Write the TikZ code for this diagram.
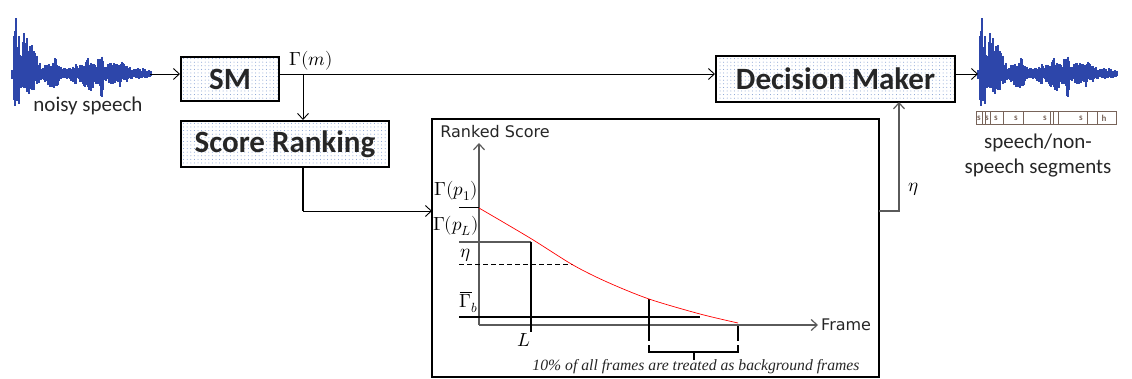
\documentclass[tikz,border=0pt]{standalone}
\usepackage{fontspec}
\usepackage{unicode-math}
\setmainfont{Carlito}
\setmathfont{Latin Modern Math}
\newfontfamily\dejavu{DejaVu Sans}
\newfontfamily\tnr{Liberation Serif}
\usetikzlibrary{arrows.meta,patterns.meta,calc}
\definecolor{wavec}{RGB}{45,70,170}
\definecolor{dotc}{RGB}{120,150,205}
\definecolor{segc}{RGB}{120,100,90}
\definecolor{axisc}{RGB}{90,90,90}

\newcommand\drawwave[1]{%
 \pgfmathsetseed{11}%
 \foreach \xa/\up/\dn in {0/5/5, 2/70/40, 5/42/32, 8/22/16, 11/42/24, 14/40/24, 17/44/26, 20/36/22, 23/22/14, 26/12/10, 29/8/8, 32/10/10, 35/12/12, 38/14/14, 41/18/17, 44/16/15, 47/10/8, 50/6/6, 53/6/6, 56/7/6, 59/8/8, 62/10/10, 65/8/8, 68/10/12, 71/14/14, 74/18/15, 77/16/19, 80/12/17, 83/10/12, 86/17/12, 89/19/28, 92/12/10, 95/10/10, 98/12/10, 101/14/12, 104/10/10, 107/12/14, 110/14/10, 113/10/8, 116/8/6, 119/6/6, 122/7/5, 125/6/5, 128/5/5, 131/6/5, 134/5/4, 137/4/4}{%
   \foreach \k in {0,1,2}{%
     \pgfmathsetmacro\ru{0.45+0.55*rnd}%
     \pgfmathsetmacro\rd{0.45+0.55*rnd}%
     \draw[wavec, line width=1.3pt] (#1+\xa+\k, 74-\up*\ru) -- (#1+\xa+\k, 74+\dn*\rd);
   }}}

\tikzset{
  block/.style={draw, line width=2pt, pattern={Dots[distance=3.6pt,radius=0.5pt]}, pattern color=dotc,
     font=\fontsize{31}{36}\selectfont\bfseries, inner sep=0pt, text=black!85},
  flow/.style={line width=0.9pt, -{Straight Barb[length=6pt,width=11pt]}},
  tip/.style={-{Straight Barb[length=6pt,width=11pt]}},
  lbl/.style={font=\fontsize{21}{25}\selectfont, text=black!85},
  mlab/.style={font=\fontsize{19}{22}\selectfont, inner sep=0pt},
  dv/.style={font=\dejavu\fontsize{16}{19}\selectfont, inner sep=0pt, text=black!85},
  seglbl/.style={font=\fontsize{9}{10}\selectfont\bfseries, text=segc, inner sep=0pt},
  heavy/.style={line width=2pt},
}

\begin{document}
\begin{tikzpicture}[x=1pt,y=-1pt]
\useasboundingbox (0,0) rectangle (1132,379);

% waveforms
\drawwave{12}
\drawwave{978}

% segment bar
\draw[segc, line width=1pt] (976,112) rectangle (1116,125);
\foreach \dx in {982,985,990,1003,1023,1050,1053,1058,1087,1097}
  \draw[segc, line width=0.8pt] (\dx,112) -- (\dx,125);
\foreach \sx in {979,987,996,1016,1045,1081}
  \node[seglbl] at (\sx,118.5) {s};
\node[seglbl] at (1104,118.5) {h};

% texts under waveforms
\node[lbl] (nsp) at (88,106) {noisy speech};
\node[lbl, align=center] (out) at (1038,156) {speech/non-\\speech segments};

% blocks
\node[block, minimum width=98pt, minimum height=44pt] (sm) at (230,79) {SM};
\node[block, minimum width=208pt, minimum height=46pt] (sr) at (285,144) {Score Ranking};
\node[block, minimum width=239pt, minimum height=46pt] (dm) at (835.5,79) {Decision Maker};
\node[draw, line width=2pt, minimum width=447pt, minimum height=258pt, inner sep=0pt] (plot) at (655.5,248) {};

% connectors
\coordinate (wl) at (150,74);
\coordinate (wr) at (978,74);
\draw[flow] (wl) -- (wl -| sm.west);
\coordinate (smo) at (sm.east |- wl);
\draw[flow] (smo) -- (smo -| dm.west);
\node[mlab] (gm) at (311,61) {$\Gamma(m)$};
\coordinate (br) at (303,74);
\draw[flow] (br) -- (br |- sr.north);
\coordinate (pin) at (432,211);
\draw[line width=1.8pt] (sr.south -| br) -- (303,211);
\draw[flow] (303,211) -- (pin);
\coordinate (pout) at (879,211);
\coordinate (dmin) at (899,102);
\draw[flow, axisc, line width=1.2pt] (pout) -| (dmin);
\node[mlab] (eta1) at (913,189) {$\eta$};
\draw[flow] (dm.east |- wr) -- (wr);

% plot content
\coordinate (org) at (479,325);
\coordinate (ytop) at (479,143);
\coordinate (xend) at (818,325);
\draw[axisc, line width=1.2pt, tip] (org) -- (ytop);
\draw[axisc, line width=1.2pt, tip] (org) -- (xend);
\node[dv, anchor=west] (frm) at (821,325) {Frame};
\node[dv] (rs) at (495,132) {Ranked Score};

\draw[line width=1pt] (459,208) -- (479,208);
\draw[axisc, line width=1.8pt] (459,242) -- (531,242);
\draw[heavy] (531,242) -- (531,332);
\draw[line width=1pt, dashed, dash pattern=on 5pt off 3pt] (459,265) -- (573,265);
\draw[heavy] (459,317) -- (700,317);
\draw[heavy] (649,299) -- (649,341);
\draw[heavy] (738,326) -- (738,341);
\draw[red, line width=0.7pt] plot[smooth] coordinates {(479,208) (530,238) (573,265) (607,282) (649,299) (700,314) (738,323)};

\draw[line width=1.6pt] (649,345) -- (649,352) -- (738,352) -- (738,345);
\draw[line width=1.6pt] (694,352) -- (694,360);

\node[mlab] (gp1) at (456,191) {$\Gamma(p_1)$};
\node[mlab] (gpl) at (456,226) {$\Gamma(p_L)$};
\node[mlab] (eta2) at (465,255) {$\eta$};
\node[mlab] (gb) at (469,302) {$\overline{\Gamma}_b$};
\node[mlab] (ll) at (524,340) {$L$};
\node[font=\tnr\itshape\fontsize{15.7}{18}\selectfont, inner sep=0pt, text=black!85] (note) at (696,367) {10\% of all frames are treated as background frames};
\end{tikzpicture}
\end{document}
